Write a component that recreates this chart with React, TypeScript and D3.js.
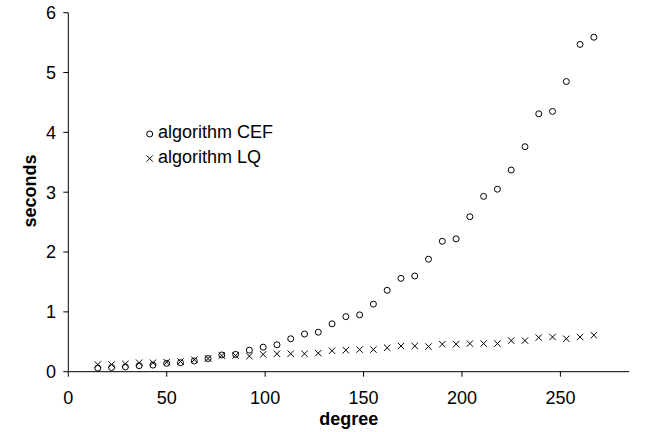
import React from "react";
import * as d3 from "d3";

const degrees = [15, 22, 29, 36, 43, 50, 57, 64, 71, 78, 85, 92, 99, 106, 113, 120, 127, 134, 141, 148, 155, 162, 169, 176, 183, 190, 197, 204, 211, 218, 225, 232, 239, 246, 253, 260, 267];
const cefSeconds = [0.06, 0.07, 0.08, 0.10, 0.11, 0.14, 0.15, 0.18, 0.22, 0.28, 0.29, 0.36, 0.41, 0.45, 0.55, 0.63, 0.66, 0.80, 0.92, 0.95, 1.13, 1.36, 1.56, 1.60, 1.88, 2.18, 2.22, 2.59, 2.93, 3.05, 3.37, 3.76, 4.31, 4.35, 4.85, 5.47, 5.59];
const lqSeconds = [0.12, 0.12, 0.13, 0.15, 0.15, 0.16, 0.17, 0.20, 0.22, 0.27, 0.27, 0.26, 0.29, 0.30, 0.30, 0.30, 0.31, 0.35, 0.36, 0.37, 0.37, 0.40, 0.43, 0.43, 0.42, 0.46, 0.46, 0.47, 0.47, 0.47, 0.52, 0.52, 0.57, 0.58, 0.55, 0.58, 0.61];
const xTicks = [0, 50, 100, 150, 200, 250];
const yTicks = [0, 1, 2, 3, 4, 5, 6];
const seriesNames = ["algorithm CEF", "algorithm LQ"];

const FONT = "'Liberation Sans', Arial, Helvetica, sans-serif";

export default function App() {
  const W = 649, H = 432;
  const left = 68.3, right = 629.3, top = 12.7, bottom = 371.7;
  const x = d3.scaleLinear().domain([0, 285]).range([left, right]);
  const y = d3.scaleLinear().domain([0, 6]).range([bottom, top]);
  const r = 3;
  const s = 3.2;
  const crossPath = (cx: number, cy: number) =>
    `M${cx - s},${cy - s}L${cx + s},${cy + s}M${cx - s},${cy + s}L${cx + s},${cy - s}`;

  return (
    <svg width={W} height={H} style={{ position: "absolute", left: 0, top: 0, background: "#fff" }} fontFamily={FONT}>
      <rect x={0} y={0} width={W} height={H} fill="#fff" />
      {/* axes */}
      <g stroke="#000" strokeWidth={1} fill="none">
        <line x1={left} y1={top} x2={left} y2={bottom} />
        <line x1={left} y1={bottom} x2={right} y2={bottom} />
        {yTicks.map((t) => (
          <line key={"yt" + t} x1={left - 5} x2={left} y1={y(t)} y2={y(t)} />
        ))}
        {xTicks.map((t) => (
          <line key={"xt" + t} x1={x(t)} x2={x(t)} y1={bottom} y2={bottom + 5} />
        ))}
      </g>
      {yTicks.map((t) => (
        <text key={"yl" + t} x={56} y={y(t) + 6.3} fontSize={18} textAnchor="end" fill="#000">
          {t}
        </text>
      ))}
      {xTicks.map((t) => (
        <text key={"xl" + t} x={x(t)} y={404} fontSize={18} textAnchor="middle" fill="#000">
          {t}
        </text>
      ))}
      <text x={(left + right) / 2} y={425} fontSize={18} fontWeight="bold" textAnchor="middle" fill="#000">
        degree
      </text>
      <text transform={`translate(36,191) rotate(-90)`} fontSize={18} fontWeight="bold" textAnchor="middle" fill="#000">
        seconds
      </text>
      {/* data */}
      <g fill="none" stroke="#000" strokeWidth={1}>
        {degrees.map((d, i) => (
          <path key={"lq" + i} d={crossPath(x(d), y(lqSeconds[i]))} />
        ))}
        {degrees.map((d, i) => (
          <circle key={"cef" + i} cx={x(d)} cy={y(cefSeconds[i])} r={r} />
        ))}
      </g>
      {/* legend */}
      <g>
        <circle cx={149.7} cy={134} r={r} fill="none" stroke="#000" strokeWidth={1} />
        <text x={158} y={138.3} fontSize={18} fill="#000">{seriesNames[0]}</text>
        <path d={crossPath(149.7, 158.5)} stroke="#000" strokeWidth={1} fill="none" />
        <text x={158} y={163.3} fontSize={18} fill="#000">{seriesNames[1]}</text>
      </g>
    </svg>
  );
}
